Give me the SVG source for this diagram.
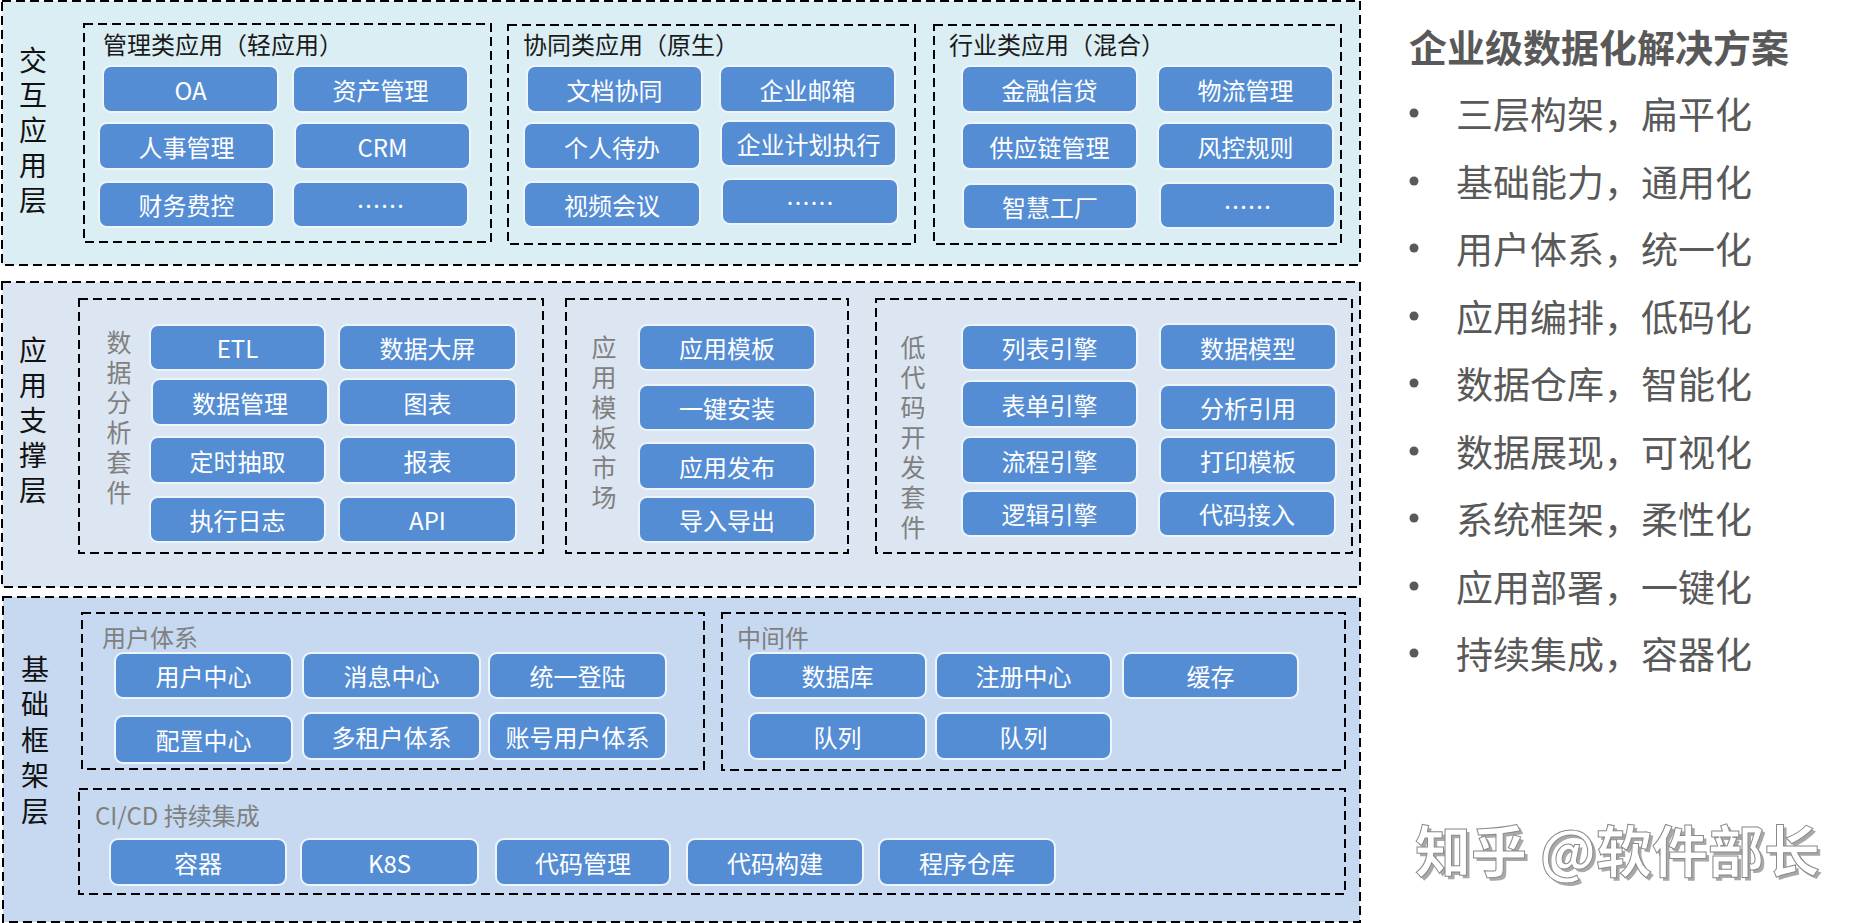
<svg xmlns="http://www.w3.org/2000/svg" width="1867" height="923" viewBox="0 0 1867 923">
<style>
text{font-family:"Noto Sans CJK SC","Microsoft YaHei","Liberation Sans",sans-serif;dominant-baseline:central}
.layer{stroke:#000;stroke-width:2;stroke-dasharray:9 5}
.grp{fill:none;stroke:#000;stroke-width:2;stroke-dasharray:9 5}
.btn rect{fill:#548DD4;stroke:#EEF4FB;stroke-width:2}
.btn text{fill:#fff;font-size:24px;text-anchor:middle}
.lbl{font-size:28px;fill:#111;writing-mode:vertical-rl;letter-spacing:7px}
.vl{font-size:25px;fill:#808080;writing-mode:vertical-rl;letter-spacing:5px}
.gt{font-size:24px;fill:#1a1a1a}
.gg{font-size:24px;fill:#808080}
.bul{font-size:37px;fill:#595959}
.dot{fill:#595959}
</style>
<rect width="1867" height="923" fill="#fff"/>

<!-- Layer 1 -->
<g id="layer-interaction">
<rect class="layer" x="2" y="1" width="1358" height="264" fill="#DBEEF4"/>
<text class="lbl" x="33" y="46">交互应用层</text>
</g>
<g id="grp-mgmt">
<rect class="grp" x="84" y="24" width="407" height="218"/>
<text class="gt" x="103" y="43">管理类应用（轻应用）</text>
</g>
<g id="grp-collab">
<rect class="grp" x="508" y="25" width="407" height="219"/>
<text class="gt" x="523" y="43">协同类应用（原生）</text>
</g>
<g id="grp-industry">
<rect class="grp" x="934" y="25" width="407" height="219"/>
<text class="gt" x="949" y="43">行业类应用（混合）</text>
</g>

<g id="n-oa" class="btn"><rect x="103" y="66" width="175" height="46" rx="8"/><text x="190.5" y="89">OA</text></g>
<g id="n-zichan" class="btn"><rect x="293" y="66" width="175" height="46" rx="8"/><text x="380.5" y="89">资产管理</text></g>
<g id="n-renshi" class="btn"><rect x="99" y="123" width="175" height="46" rx="8"/><text x="186.5" y="146">人事管理</text></g>
<g id="n-crm" class="btn"><rect x="295" y="123" width="175" height="46" rx="8"/><text x="382.5" y="146">CRM</text></g>
<g id="n-caiwu" class="btn"><rect x="99" y="182" width="175" height="45" rx="8"/><text x="186.5" y="204.5">财务费控</text></g>
<g id="n-more1" class="btn"><rect x="293" y="182" width="175" height="45" rx="8"/><text x="380.5" y="204.5">……</text></g>

<g id="n-wendang" class="btn"><rect x="527" y="66" width="175" height="46" rx="8"/><text x="614.5" y="89">文档协同</text></g>
<g id="n-youxiang" class="btn"><rect x="720" y="66" width="175" height="46" rx="8"/><text x="807.5" y="89">企业邮箱</text></g>
<g id="n-daiban" class="btn"><rect x="524" y="123" width="176" height="46" rx="8"/><text x="612" y="146">个人待办</text></g>
<g id="n-jihua" class="btn"><rect x="721" y="121" width="175" height="45" rx="8"/><text x="808.5" y="143.5">企业计划执行</text></g>
<g id="n-shipin" class="btn"><rect x="524" y="182" width="176" height="45" rx="8"/><text x="612" y="204.5">视频会议</text></g>
<g id="n-more2" class="btn"><rect x="722" y="179" width="176" height="45" rx="8"/><text x="810" y="201.5">……</text></g>

<g id="n-jinrong" class="btn"><rect x="962" y="66" width="175" height="46" rx="8"/><text x="1049.5" y="89">金融信贷</text></g>
<g id="n-wuliu" class="btn"><rect x="1158" y="66" width="175" height="46" rx="8"/><text x="1245.5" y="89">物流管理</text></g>
<g id="n-gongying" class="btn"><rect x="962" y="123" width="175" height="46" rx="8"/><text x="1049.5" y="146">供应链管理</text></g>
<g id="n-fengkong" class="btn"><rect x="1158" y="123" width="175" height="46" rx="8"/><text x="1245.5" y="146">风控规则</text></g>
<g id="n-zhihui" class="btn"><rect x="963" y="184" width="174" height="45" rx="8"/><text x="1050" y="206.5">智慧工厂</text></g>
<g id="n-more3" class="btn"><rect x="1160" y="183" width="175" height="45" rx="8"/><text x="1247.5" y="205.5">……</text></g>

<!-- Layer 2 -->
<g id="layer-support">
<rect class="layer" x="2" y="282" width="1358" height="305" fill="#DCE6F2"/>
<text class="lbl" x="33" y="336">应用支撑层</text>
</g>
<g id="grp-analysis">
<rect class="grp" x="79" y="299" width="464" height="254"/>
<text class="vl" x="119" y="329.5">数据分析套件</text>
</g>
<g id="grp-market">
<rect class="grp" x="566" y="299" width="282" height="254"/>
<text class="vl" x="604" y="334.5">应用模板市场</text>
</g>
<g id="grp-lowcode">
<rect class="grp" x="876" y="299" width="476" height="254"/>
<text class="vl" x="913" y="334.5">低代码开发套件</text>
</g>

<g id="n-etl" class="btn"><rect x="150" y="325" width="175" height="45" rx="8"/><text x="237.5" y="347.5">ETL</text></g>
<g id="n-daping" class="btn"><rect x="339" y="325" width="177" height="45" rx="8"/><text x="427.5" y="347.5">数据大屏</text></g>
<g id="n-shujuguanli" class="btn"><rect x="152" y="379" width="176" height="46" rx="8"/><text x="240" y="402">数据管理</text></g>
<g id="n-tubiao" class="btn"><rect x="339" y="379" width="177" height="46" rx="8"/><text x="427.5" y="402">图表</text></g>
<g id="n-dingshi" class="btn"><rect x="150" y="437" width="175" height="46" rx="8"/><text x="237.5" y="460">定时抽取</text></g>
<g id="n-baobiao" class="btn"><rect x="339" y="437" width="177" height="46" rx="8"/><text x="427.5" y="460">报表</text></g>
<g id="n-rizhi" class="btn"><rect x="150" y="497" width="175" height="45" rx="8"/><text x="237.5" y="519.5">执行日志</text></g>
<g id="n-api" class="btn"><rect x="339" y="497" width="177" height="45" rx="8"/><text x="427.5" y="519.5">API</text></g>

<g id="n-moban" class="btn"><rect x="639" y="325" width="176" height="45" rx="8"/><text x="727" y="347.5">应用模板</text></g>
<g id="n-anzhuang" class="btn"><rect x="639" y="385" width="176" height="45" rx="8"/><text x="727" y="407.5">一键安装</text></g>
<g id="n-fabu" class="btn"><rect x="639" y="443" width="176" height="46" rx="8"/><text x="727" y="466">应用发布</text></g>
<g id="n-daoru" class="btn"><rect x="639" y="497" width="176" height="45" rx="8"/><text x="727" y="519.5">导入导出</text></g>

<g id="n-liebiao" class="btn"><rect x="962" y="325" width="175" height="45" rx="8"/><text x="1049.5" y="347.5">列表引擎</text></g>
<g id="n-biaodan" class="btn"><rect x="962" y="381" width="175" height="46" rx="8"/><text x="1049.5" y="404">表单引擎</text></g>
<g id="n-liucheng" class="btn"><rect x="962" y="437" width="175" height="46" rx="8"/><text x="1049.5" y="460">流程引擎</text></g>
<g id="n-luoji" class="btn"><rect x="962" y="491" width="175" height="45" rx="8"/><text x="1049.5" y="513.5">逻辑引擎</text></g>
<g id="n-moxing" class="btn"><rect x="1160" y="324" width="176" height="46" rx="8"/><text x="1248" y="347">数据模型</text></g>
<g id="n-fenxi" class="btn"><rect x="1160" y="385" width="176" height="45" rx="8"/><text x="1248" y="407.5">分析引用</text></g>
<g id="n-dayin" class="btn"><rect x="1160" y="437" width="176" height="46" rx="8"/><text x="1248" y="460">打印模板</text></g>
<g id="n-jieru" class="btn"><rect x="1159" y="491" width="176" height="45" rx="8"/><text x="1247" y="513.5">代码接入</text></g>

<!-- Layer 3 -->
<g id="layer-base">
<rect class="layer" x="3" y="597" width="1357" height="325" fill="#C6D9F1"/>
<text class="lbl" x="35" y="655" style="letter-spacing:7.5px">基础框架层</text>
</g>
<g id="grp-user">
<rect class="grp" x="82" y="613" width="622" height="156"/>
<text class="gg" x="102" y="636">用户体系</text>
</g>
<g id="grp-middleware">
<rect class="grp" x="722" y="613" width="623" height="157"/>
<text class="gg" x="737" y="636">中间件</text>
</g>
<g id="grp-cicd">
<rect class="grp" x="79" y="789" width="1266" height="105"/>
<text class="gg" x="95" y="814">CI/CD 持续集成</text>
</g>

<g id="n-yonghu" class="btn"><rect x="115" y="653" width="177" height="45" rx="8"/><text x="203.5" y="675.5">用户中心</text></g>
<g id="n-xiaoxi" class="btn"><rect x="303" y="653" width="177" height="45" rx="8"/><text x="391.5" y="675.5">消息中心</text></g>
<g id="n-denglu" class="btn"><rect x="489" y="653" width="177" height="45" rx="8"/><text x="577.5" y="675.5">统一登陆</text></g>
<g id="n-peizhi" class="btn"><rect x="115" y="716" width="177" height="47" rx="8"/><text x="203.5" y="739.5">配置中心</text></g>
<g id="n-zuhu" class="btn"><rect x="303" y="713" width="177" height="46" rx="8"/><text x="391.5" y="736">多租户体系</text></g>
<g id="n-zhanghao" class="btn"><rect x="489" y="713" width="177" height="46" rx="8"/><text x="577.5" y="736">账号用户体系</text></g>

<g id="n-shujuku" class="btn"><rect x="749" y="653" width="177" height="45" rx="8"/><text x="837.5" y="675.5">数据库</text></g>
<g id="n-zhuce" class="btn"><rect x="936" y="653" width="175" height="45" rx="8"/><text x="1023.5" y="675.5">注册中心</text></g>
<g id="n-huancun" class="btn"><rect x="1123" y="653" width="175" height="45" rx="8"/><text x="1210.5" y="675.5">缓存</text></g>
<g id="n-duilie1" class="btn"><rect x="749" y="713" width="177" height="46" rx="8"/><text x="837.5" y="736">队列</text></g>
<g id="n-duilie2" class="btn"><rect x="936" y="713" width="175" height="46" rx="8"/><text x="1023.5" y="736">队列</text></g>

<g id="n-rongqi" class="btn"><rect x="110" y="839" width="176" height="46" rx="8"/><text x="198" y="862">容器</text></g>
<g id="n-k8s" class="btn"><rect x="301" y="839" width="177" height="46" rx="8"/><text x="389.5" y="862">K8S</text></g>
<g id="n-daimaguanli" class="btn"><rect x="496" y="839" width="174" height="46" rx="8"/><text x="583" y="862">代码管理</text></g>
<g id="n-goujian" class="btn"><rect x="687" y="839" width="176" height="46" rx="8"/><text x="775" y="862">代码构建</text></g>
<g id="n-cangku" class="btn"><rect x="879" y="839" width="176" height="46" rx="8"/><text x="967" y="862">程序仓库</text></g>

<g id="connectors"></g>

<!-- Right panel -->
<g id="summary">
<text x="1409" y="45" style="font-size:38px;font-weight:bold;fill:#595959">企业级数据化解决方案</text>
<circle class="dot" cx="1414" cy="113" r="4.5"/><text class="bul" x="1456" y="113">三层构架，扁平化</text>
<circle class="dot" cx="1414" cy="181" r="4.5"/><text class="bul" x="1456" y="181">基础能力，通用化</text>
<circle class="dot" cx="1414" cy="248" r="4.5"/><text class="bul" x="1456" y="248">用户体系，统一化</text>
<circle class="dot" cx="1414" cy="316" r="4.5"/><text class="bul" x="1456" y="316">应用编排，低码化</text>
<circle class="dot" cx="1414" cy="383" r="4.5"/><text class="bul" x="1456" y="383">数据仓库，智能化</text>
<circle class="dot" cx="1414" cy="451" r="4.5"/><text class="bul" x="1456" y="451">数据展现，可视化</text>
<circle class="dot" cx="1414" cy="518" r="4.5"/><text class="bul" x="1456" y="518">系统框架，柔性化</text>
<circle class="dot" cx="1414" cy="586" r="4.5"/><text class="bul" x="1456" y="586">应用部署，一键化</text>
<circle class="dot" cx="1414" cy="653" r="4.5"/><text class="bul" x="1456" y="653">持续集成，容器化</text>
</g>
<g id="watermark">
<text x="1418" y="850" style="font-size:56px;font-weight:bold;fill:#a8a8a8">知乎 @软件部长</text>
<text x="1415" y="847" style="font-size:56px;font-weight:bold;fill:#fff;stroke:#8a8a8a;stroke-width:1">知乎 @软件部长</text>
</g>
</svg>
